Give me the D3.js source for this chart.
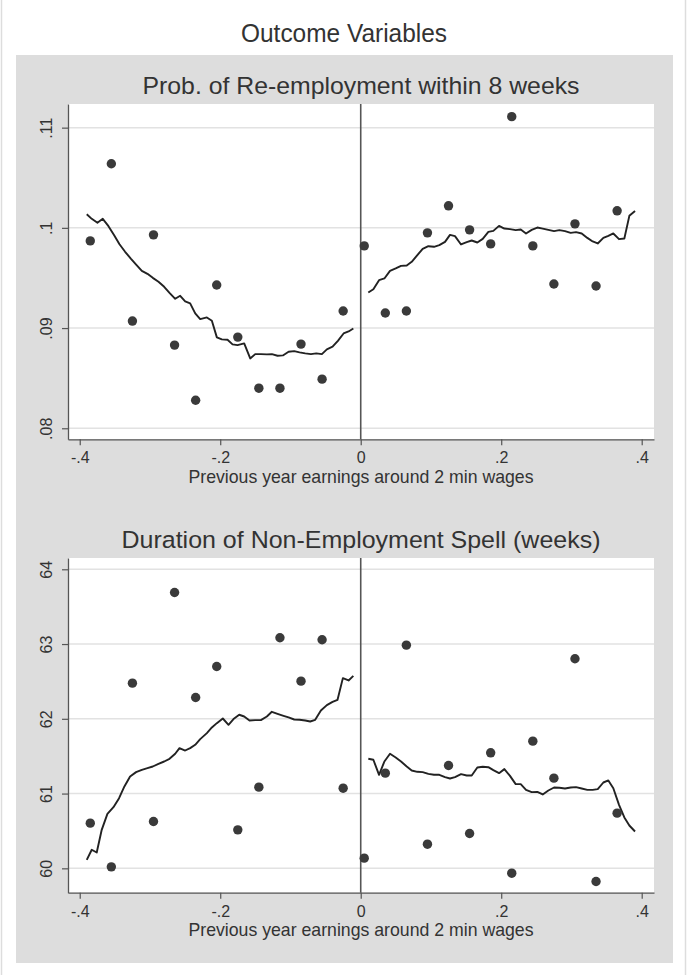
<!DOCTYPE html>
<html>
<head>
<meta charset="utf-8">
<script src="https://cdn.jsdelivr.net/npm/d3@7"></script>
<style>
body { margin: 0; background: #fff; }
svg { display: block; font-family: "Liberation Sans", Arial, Helvetica, sans-serif; }
</style>
</head>
<body>
<svg id="chart" width="687" height="975"></svg>
<script>
//shared x axis
const mainTitle = "Outcome Variables";
const xTicks = [-0.4, -0.2, 0, 0.2, 0.4];
const xTickLabels = ["-.4", "-.2", "0", ".2", ".4"];
const xTitle = "Previous year earnings around 2 min wages";

//bin centres of the scatter points
const binsLeft = [-0.385, -0.355, -0.325, -0.295, -0.265, -0.235, -0.205, -0.175, -0.145, -0.115, -0.085, -0.055, -0.025];
const binsRight = [0.005, 0.035, 0.065, 0.095, 0.125, 0.155, 0.185, 0.215, 0.245, 0.275, 0.305, 0.335, 0.365];

//panel 1: re-employment probability
const reTitle = "Prob. of Re-employment within 8 weeks";
const reTicks = [0.08, 0.09, 0.10, 0.11];
const reTickLabels = [".08", ".09", ".1", ".11"];
const reDotsLeft = [0.0987, 0.1064, 0.0907, 0.0993, 0.0883, 0.0828, 0.0943, 0.0891, 0.0840, 0.0840, 0.0884, 0.0849, 0.0917];
const reDotsRight = [0.0982, 0.0915, 0.0917, 0.0995, 0.1022, 0.0998, 0.0984, 0.1111, 0.0982, 0.0944, 0.1004, 0.0942, 0.1017];
const reLineLeft = [
  [-0.3900, 0.10136], [-0.3829, 0.10090], [-0.3748, 0.10050], [-0.3672, 0.10090], [-0.3591, 0.10017],
  [-0.3510, 0.09927], [-0.3434, 0.09837], [-0.3354, 0.09761], [-0.3273, 0.09694], [-0.3197, 0.09634],
  [-0.3116, 0.09571], [-0.3036, 0.09541], [-0.2960, 0.09501], [-0.2879, 0.09462], [-0.2798, 0.09412],
  [-0.2722, 0.09352], [-0.2641, 0.09292], [-0.2570, 0.09322], [-0.2499, 0.09266], [-0.2428, 0.09246],
  [-0.2356, 0.09146], [-0.2285, 0.09089], [-0.2190, 0.09106], [-0.2119, 0.09073], [-0.2048, 0.08907],
  [-0.1977, 0.08887], [-0.1896, 0.08883], [-0.1825, 0.08837], [-0.1754, 0.08830], [-0.1659, 0.08847],
  [-0.1573, 0.08697], [-0.1502, 0.08740], [-0.1421, 0.08740], [-0.1336, 0.08737], [-0.1265, 0.08740],
  [-0.1184, 0.08724], [-0.1108, 0.08727], [-0.1027, 0.08764], [-0.0947, 0.08770], [-0.0871, 0.08757],
  [-0.0790, 0.08747], [-0.0709, 0.08740], [-0.0633, 0.08747], [-0.0553, 0.08740], [-0.0482, 0.08787],
  [-0.0401, 0.08814], [-0.0325, 0.08873], [-0.0244, 0.08946], [-0.0173, 0.08966], [-0.0105, 0.08996]
];
const reLineRight = [
  [0.0108, 0.09355], [0.0180, 0.09388], [0.0261, 0.09478], [0.0337, 0.09495], [0.0417, 0.09571],
  [0.0498, 0.09595], [0.0574, 0.09621], [0.0655, 0.09624], [0.0726, 0.09661], [0.0806, 0.09727],
  [0.0882, 0.09791], [0.0963, 0.09817], [0.1043, 0.09811], [0.1119, 0.09827], [0.1200, 0.09860],
  [0.1271, 0.09930], [0.1342, 0.09917], [0.1428, 0.09834], [0.1509, 0.09857], [0.1580, 0.09874],
  [0.1660, 0.09854], [0.1737, 0.09890], [0.1817, 0.09960], [0.1888, 0.09970], [0.1969, 0.10020],
  [0.2045, 0.09993], [0.2125, 0.09987], [0.2206, 0.09977], [0.2278, 0.09983], [0.2353, 0.09944],
  [0.2434, 0.09980], [0.2514, 0.10003], [0.2591, 0.09993], [0.2671, 0.09980], [0.2752, 0.09967],
  [0.2828, 0.09977], [0.2908, 0.09967], [0.2989, 0.09950], [0.3065, 0.09957], [0.3146, 0.09944],
  [0.3226, 0.09900], [0.3302, 0.09864], [0.3374, 0.09844], [0.3454, 0.09900], [0.3525, 0.09920],
  [0.3596, 0.09944], [0.3677, 0.09887], [0.3753, 0.09894], [0.3824, 0.10120], [0.3905, 0.10169]
];

//panel 2: duration of non-employment
const durTitle = "Duration of Non-Employment Spell (weeks)";
const durTicks = [60, 61, 62, 63, 64];
const durTickLabels = ["60", "61", "62", "63", "64"];
const durDotsLeft = [60.604, 60.020, 62.477, 60.627, 63.690, 62.285, 62.700, 60.515, 61.086, 63.084, 62.504, 63.057, 61.072];
const durDotsRight = [60.136, 61.273, 62.985, 60.323, 61.376, 60.466, 61.545, 59.935, 61.701, 61.206, 62.803, 59.824, 60.738];
const durLineLeft = [
  [-0.3900, 60.114], [-0.3829, 60.248], [-0.3758, 60.212], [-0.3687, 60.515], [-0.3606, 60.729],
  [-0.3520, 60.818], [-0.3440, 60.939], [-0.3364, 61.095], [-0.3283, 61.229], [-0.3198, 61.287],
  [-0.3116, 61.318], [-0.3036, 61.340], [-0.2960, 61.362], [-0.2879, 61.398], [-0.2798, 61.429],
  [-0.2722, 61.465], [-0.2641, 61.532], [-0.2580, 61.608], [-0.2499, 61.576], [-0.2428, 61.608],
  [-0.2356, 61.652], [-0.2285, 61.728], [-0.2190, 61.808], [-0.2119, 61.884], [-0.2048, 61.942],
  [-0.1963, 62.004], [-0.1882, 61.920], [-0.1811, 61.996], [-0.1730, 62.054], [-0.1659, 62.031],
  [-0.1583, 61.978], [-0.1502, 61.982], [-0.1421, 61.982], [-0.1336, 62.031], [-0.1265, 62.094],
  [-0.1184, 62.067], [-0.1099, 62.040], [-0.1027, 62.018], [-0.0947, 61.991], [-0.0871, 61.987],
  [-0.0790, 61.978], [-0.0719, 61.964], [-0.0648, 61.987], [-0.0567, 62.111], [-0.0482, 62.183],
  [-0.0401, 62.227], [-0.0330, 62.254], [-0.0254, 62.544], [-0.0173, 62.513], [-0.0105, 62.575]
];
const durLineRight = [
  [0.0108, 61.465], [0.0180, 61.452], [0.0261, 61.251], [0.0337, 61.429], [0.0417, 61.532],
  [0.0498, 61.483], [0.0574, 61.429], [0.0655, 61.362], [0.0726, 61.309], [0.0806, 61.291],
  [0.0882, 61.287], [0.0963, 61.264], [0.1043, 61.251], [0.1119, 61.251], [0.1200, 61.220],
  [0.1271, 61.202], [0.1342, 61.220], [0.1428, 61.260], [0.1509, 61.242], [0.1580, 61.242],
  [0.1660, 61.349], [0.1737, 61.358], [0.1817, 61.353], [0.1888, 61.313], [0.1969, 61.273],
  [0.2045, 61.327], [0.2125, 61.237], [0.2206, 61.126], [0.2278, 61.126], [0.2353, 61.050],
  [0.2434, 61.019], [0.2514, 61.023], [0.2591, 60.988], [0.2671, 61.041], [0.2752, 61.081],
  [0.2828, 61.077], [0.2908, 61.068], [0.2989, 61.081], [0.3065, 61.086], [0.3146, 61.068],
  [0.3226, 61.050], [0.3302, 61.050], [0.3374, 61.059], [0.3454, 61.148], [0.3525, 61.175],
  [0.3596, 61.072], [0.3677, 60.849], [0.3753, 60.680], [0.3824, 60.573], [0.3905, 60.493]
];

const svg = d3.select("#chart");
const textCol = "#333";

//outer frame and grey graph region
svg.append("line").attr("x1", 1.5).attr("x2", 1.5).attr("y1", 0).attr("y2", 975)
    .attr("stroke", "#ddd").attr("stroke-width", 1.5);
svg.append("line").attr("x1", 685.5).attr("x2", 685.5).attr("y1", 0).attr("y2", 975)
    .attr("stroke", "#ddd").attr("stroke-width", 1.5);
svg.append("rect").attr("x", 16).attr("y", 55).attr("width", 657).attr("height", 908)
    .attr("fill", "#dddddd");

svg.append("text")
    .attr("x", 344).attr("y", 42)
    .attr("text-anchor", "middle")
    .attr("font-size", 26.5)
    .attr("textLength", 206)
    .attr("lengthAdjust", "spacingAndGlyphs")
    .attr("fill", textCol)
    .text(mainTitle);

const x = d3.scaleLinear().domain([-0.4167, 0.4175]).range([68, 654]);

function drawPanel(p) {
    const y = d3.scaleLinear().domain(p.yDomain).range([p.bottom, p.top]);
    const g = svg.append("g");

    g.append("text")
        .attr("x", 361).attr("y", p.titleY)
        .attr("text-anchor", "middle")
        .attr("font-size", 24.5)
        .attr("textLength", p.titleW)
        .attr("lengthAdjust", "spacingAndGlyphs")
        .attr("fill", textCol)
        .text(p.title);

    //white plot region
    g.append("rect")
        .attr("x", 68).attr("y", p.top)
        .attr("width", 654 - 68).attr("height", p.bottom - p.top)
        .attr("fill", "#fff");

    //grid lines
    g.selectAll(".grid")
        .data(p.ticks)
      .enter().append("line")
        .attr("x1", 68).attr("x2", 654)
        .attr("y1", d => y(d)).attr("y2", d => y(d))
        .attr("stroke", "#e2e2e2").attr("stroke-width", 1.5);

    //cutoff line at zero
    g.append("line")
        .attr("x1", x(0)).attr("x2", x(0))
        .attr("y1", p.top).attr("y2", p.bottom)
        .attr("stroke", "#555").attr("stroke-width", 1.6);

    const line = d3.line().x(d => x(d[0])).y(d => y(d[1]));
    [p.lineLeft, p.lineRight].forEach(seg => {
        g.append("path")
            .attr("d", line(seg))
            .attr("fill", "none")
            .attr("stroke", "#222")
            .attr("stroke-width", 1.9)
            .attr("stroke-linejoin", "round");
    });

    const dots = binsLeft.map((b, i) => [b, p.dotsLeft[i]])
        .concat(binsRight.map((b, i) => [b, p.dotsRight[i]]));
    g.selectAll(".dot")
        .data(dots)
      .enter().append("circle")
        .attr("cx", d => x(d[0]))
        .attr("cy", d => y(d[1]))
        .attr("r", 4.7)
        .attr("fill", "#3a3a3a");

    //axes
    const xAxis = g.append("g")
        .attr("transform", "translate(0," + p.bottom + ")")
        .call(d3.axisBottom(x).tickValues(xTicks)
            .tickFormat((d, i) => xTickLabels[i]).tickSize(6).tickSizeOuter(0));
    xAxis.selectAll("text").attr("y", 24).attr("dy", null)
        .attr("font-size", 16).attr("fill", textCol).attr("font-family", null);

    const yAxis = g.append("g")
        .attr("transform", "translate(68,0)")
        .call(d3.axisLeft(y).tickValues(p.ticks)
            .tickFormat((d, i) => p.tickLabels[i]).tickSize(6).tickSizeOuter(0));
    yAxis.selectAll("text")
        .attr("x", null).attr("dy", null)
        .attr("text-anchor", "middle")
        .attr("transform", "translate(-16,0) rotate(-90)")
        .attr("font-size", 16).attr("fill", textCol).attr("font-family", null);

    [xAxis, yAxis].forEach(a => {
        a.select(".domain").attr("stroke", "#555").attr("stroke-width", 1.3);
        a.selectAll(".tick line").attr("stroke", "#555").attr("stroke-width", 1.2);
    });

    g.append("text")
        .attr("x", 361).attr("y", p.xTitleY)
        .attr("text-anchor", "middle")
        .attr("font-size", 17.7)
        .attr("fill", textCol)
        .text(xTitle);
}

drawPanel({
    title: reTitle, titleW: 437, titleY: 94.3, top: 104, bottom: 439.3, xTitleY: 482.7,
    yDomain: [0.0789, 0.11236], ticks: reTicks, tickLabels: reTickLabels,
    dotsLeft: reDotsLeft, dotsRight: reDotsRight, lineLeft: reLineLeft, lineRight: reLineRight
});
drawPanel({
    title: durTitle, titleW: 479, titleY: 548.3, top: 558, bottom: 892.7, xTitleY: 936,
    yDomain: [59.674, 64.151], ticks: durTicks, tickLabels: durTickLabels,
    dotsLeft: durDotsLeft, dotsRight: durDotsRight, lineLeft: durLineLeft, lineRight: durLineRight
});
</script>
</body>
</html>
